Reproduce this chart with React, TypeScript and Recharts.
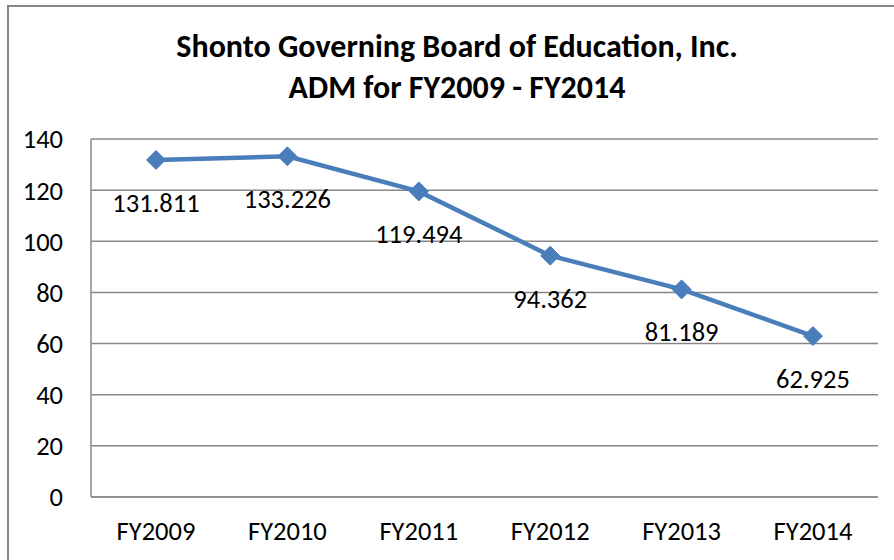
import { LineChart, Line, XAxis, YAxis, CartesianGrid, LabelList } from "recharts";

const years = ["FY2009", "FY2010", "FY2011", "FY2012", "FY2013", "FY2014"];
const adm = [131.811, 133.226, 119.494, 94.362, 81.189, 62.925];
const yTicks = [0, 20, 40, 60, 80, 100, 120, 140];

const data = years.map((year, i) => ({ year, adm: adm[i] }));

const FONT = "Carlito, Calibri, 'Liberation Sans', Arial, sans-serif";
const BLUE = "#4A7EBB";
const TXT = 26.5;

// diamond marker, centred on the point recharts gives us
const Diamond = (props: any) => {
  const { cx, cy } = props;
  if (cx == null || cy == null) return null;
  const r = 9.5;
  return (
    <path
      d={`M${cx},${cy - r} L${cx + r},${cy} L${cx},${cy + r} L${cx - r},${cy} Z`}
      fill={BLUE}
      stroke={BLUE}
    />
  );
};

export default function App() {
  return (
    <div
      style={{
        position: "fixed",
        left: 0,
        top: 0,
        width: 894,
        height: 560,
        overflow: "hidden",
        background: "#fff",
        fontFamily: FONT,
      }}
    >
      {/* outer frame, runs off the right and bottom edges */}
      <div
        style={{
          position: "absolute",
          left: 7,
          top: 5,
          width: 920,
          height: 620,
          border: "2px solid #888",
        }}
      />
      <div
        style={{
          position: "absolute",
          left: 0,
          top: 26,
          width: 914,
          textAlign: "center",
          fontWeight: "bold",
          fontSize: 32,
          lineHeight: "41px",
          color: "#000",
        }}
      >
        Shonto Governing Board of Education, Inc.
        <br />
        ADM for FY2009 - FY2014
      </div>
      <div style={{ position: "absolute", left: 0, top: 0 }}>
        <LineChart
          width={894}
          height={560}
          data={data}
          margin={{ top: 139, right: 16, bottom: 23, left: 31 }}
        >
          <CartesianGrid vertical={false} stroke="#888" strokeWidth={1.5} />
          <XAxis
            dataKey="year"
            height={40}
            padding={{ left: 65, right: 65 }}
            axisLine={{ stroke: "#888", strokeWidth: 1.5 }}
            tickLine={false}
            tickMargin={18}
            tick={{ fill: "#000", fontSize: TXT, fontFamily: FONT }}
          />
          <YAxis
            width={60}
            domain={[0, 140]}
            ticks={yTicks}
            axisLine={{ stroke: "#888", strokeWidth: 1.5 }}
            tickLine={false}
            tickMargin={22}
            tick={{ fill: "#000", fontSize: TXT, fontFamily: FONT }}
          />
          <Line
            type="linear"
            dataKey="adm"
            stroke={BLUE}
            strokeWidth={4.5}
            dot={<Diamond />}
            activeDot={false}
            isAnimationActive={false}
          >
            <LabelList
              dataKey="adm"
              position="bottom"
              offset={33}
              fill="#000"
              fontSize={TXT}
              fontFamily={FONT}
            />
          </Line>
        </LineChart>
      </div>
    </div>
  );
}
